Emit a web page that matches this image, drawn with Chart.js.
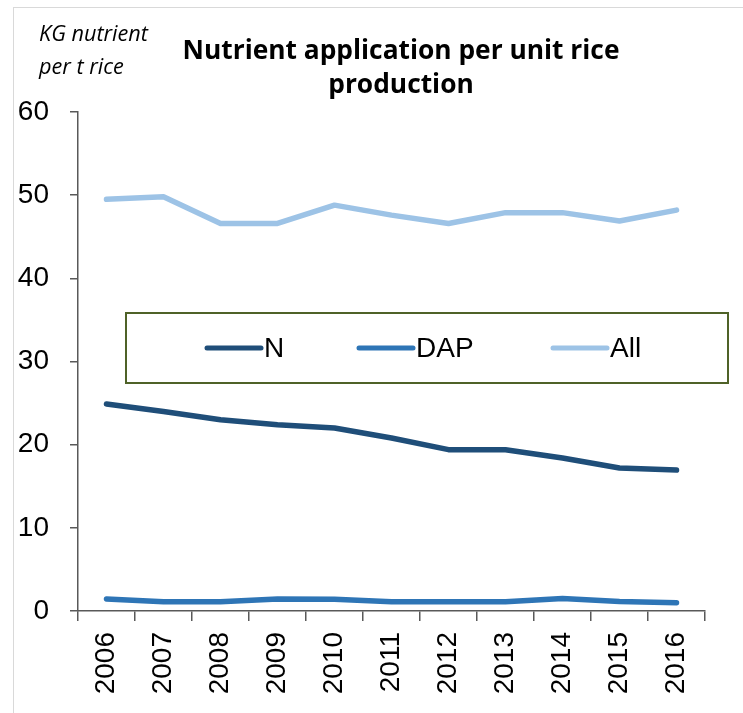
<!DOCTYPE html>
<html><head><meta charset="utf-8">
<script src="https://cdn.jsdelivr.net/npm/chart.js@4"></script>
<style>html,body{margin:0;padding:0;background:#fff;}#wrap{width:743px;height:713px;}</style>
</head><body><div id="wrap"><canvas id="c" width="743" height="713"></canvas></div>
<script>
const years = ['2006','2007','2008','2009','2010','2011','2012','2013','2014','2015','2016'];
const nValues = [24.9, 24.0, 23.0, 22.4, 22.0, 20.8, 19.4, 19.4, 18.4, 17.2, 16.95];
const dapValues = [1.45, 1.1, 1.1, 1.45, 1.4, 1.1, 1.1, 1.1, 1.5, 1.15, 1.0];
const allValues = [49.5, 49.8, 46.6, 46.6, 48.8, 47.6, 46.6, 47.9, 47.9, 46.9, 48.2];
const seriesNames = ['N', 'DAP', 'All'];
const seriesColors = ['#1F4E79', '#2E75B6', '#9DC3E6'];
const titleLines = ['Nutrient application per unit rice', 'production'];
const yLabelLines = ['KG nutrient', 'per t rice'];
const yMin = 0, yMax = 60, yStep = 10;

function fitFont(ctx, style, family, text, target) {
  ctx.font = `${style} 20px ${family}`;
  const w = ctx.measureText(text).width;
  const size = 20 * target / w;
  return `${style} ${size.toFixed(2)}px ${family}`;
}

const decor = {
  id: 'decor',
  beforeDraw(chart) {
    const ctx = chart.ctx;
    ctx.save();
    ctx.fillStyle = '#fff';
    ctx.fillRect(0, 0, chart.width, chart.height);
    ctx.strokeStyle = '#D9D9D9';
    ctx.lineWidth = 1;
    ctx.strokeRect(13.5, 7.5, 900, 900);
    ctx.restore();
  },
  afterDraw(chart) {
    const ctx = chart.ctx;
    ctx.save();
    // title
    ctx.fillStyle = '#000';
    ctx.textAlign = 'center';
    ctx.textBaseline = 'middle';
    ctx.font = fitFont(ctx, 'bold', '"Open Sans"', titleLines[0], 437);
    ctx.fillText(titleLines[0], 401, 51);
    ctx.fillText(titleLines[1], 401, 85);
    // y label
    ctx.textAlign = 'left';
    ctx.font = fitFont(ctx, 'italic', '"Open Sans"', yLabelLines[0], 109);
    ctx.fillText(yLabelLines[0], 39, 35);
    ctx.fillText(yLabelLines[1], 39, 68);
    // legend box
    const bx = 126, by = 313, bw = 602, bh = 70;
    ctx.fillStyle = '#fff';
    ctx.fillRect(bx, by, bw, bh);
    ctx.strokeStyle = '#4F6228';
    ctx.lineWidth = 2;
    ctx.strokeRect(bx, by, bw, bh);
    const starts = [207, 359, 553];
    const cy = 348;
    chart.data.datasets.forEach((ds, i) => {
      ctx.strokeStyle = ds.borderColor;
      ctx.lineWidth = 5;
      ctx.lineCap = 'round';
      ctx.beginPath();
      ctx.moveTo(starts[i], cy);
      ctx.lineTo(starts[i] + 54, cy);
      ctx.stroke();
      ctx.fillStyle = '#000';
      ctx.font = '28px "Liberation Sans"';
      ctx.textAlign = 'left';
      ctx.textBaseline = 'middle';
      ctx.fillText(ds.label, starts[i] + 57, cy + 1);
    });
    ctx.restore();
  }
};

const mk = (i, data) => ({
  label: seriesNames[i], data, borderColor: seriesColors[i], backgroundColor: seriesColors[i],
  borderWidth: 5.5, pointRadius: 0, pointHoverRadius: 0, tension: 0,
  borderCapStyle: 'round', borderJoinStyle: 'round', fill: false
});

new Chart(document.getElementById('c'), {
  type: 'line',
  data: { labels: years, datasets: [mk(0, nValues), mk(1, dapValues), mk(2, allValues)] },
  options: {
    responsive: false, animation: false, devicePixelRatio: 1,
    layout: { padding: { top: 112, right: 38, left: 0, bottom: 0 } },
    plugins: { legend: { display: false }, title: { display: false }, tooltip: { enabled: false } },
    scales: {
      x: {
        offset: true,
        grid: { offset: true, drawOnChartArea: false, drawTicks: true, tickLength: 10, color: '#595959', lineWidth: 1.5 },
        border: { display: true, color: '#595959', width: 1.5 },
        ticks: { maxRotation: 90, minRotation: 90, padding: 11, color: '#000', font: { family: 'Liberation Sans', size: 28 }, autoSkip: false },
        afterFit(s) { s.height = 102; }
      },
      y: {
        min: yMin, max: yMax,
        grid: { drawOnChartArea: false, drawTicks: true, tickLength: 8, color: '#595959', lineWidth: 1.5 },
        border: { display: true, color: '#595959', width: 1.5 },
        ticks: { stepSize: yStep, padding: 21, color: '#000', font: { family: 'Liberation Sans', size: 28 } },
        afterFit(s) { s.width = 78; }
      }
    }
  },
  plugins: [decor]
});
</script></body></html>
